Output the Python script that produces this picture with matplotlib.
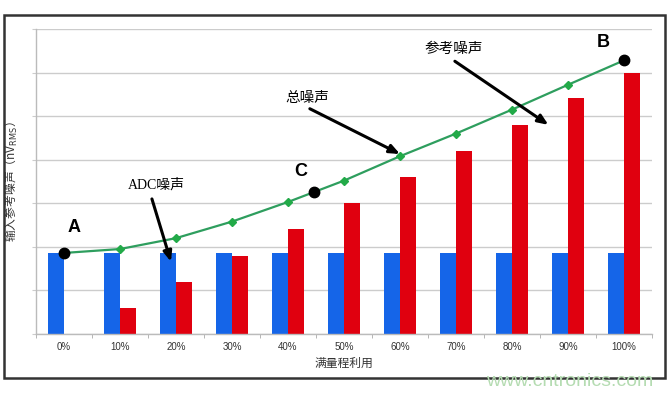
import matplotlib.pyplot as plt
import numpy as np
from matplotlib.patches import Rectangle

plt.rcParams['font.family'] = ['Liberation Sans', 'Noto Sans CJK SC', 'DejaVu Sans']

# values (y in chart units, gridline spacing = 1)
categories = ["0%", "10%", "20%", "30%", "40%", "50%", "60%", "70%", "80%", "90%", "100%"]
adc_noise = [1.86, 1.86, 1.86, 1.86, 1.86, 1.86, 1.86, 1.86, 1.86, 1.86, 1.86]
ref_noise = [0.0, 0.6, 1.2, 1.8, 2.41, 3.0, 3.6, 4.2, 4.8, 5.41, 6.0]
total_noise = [1.86, 1.95, 2.2, 2.58, 3.03, 3.52, 4.08, 4.6, 5.15, 5.72, 6.28]
# marked points A, C, B  (x in category index)
point_x = [0, 4.46, 10]
point_y = [1.86, 3.27, 6.28]
point_names = ["A", "C", "B"]

BLUE = "#1565e8"
RED = "#e0000f"
GREEN = "#2e9e5e"
DIAMOND = "#22aa48"
GRID = "#cccccc"

fig = plt.figure(figsize=(6.71, 3.95), dpi=100)
ax = fig.add_axes([36 / 671, 1 - 334 / 395, (652 - 36) / 671, (334 - 29) / 395])

x = np.arange(len(categories))
w = 0.286
ax.bar(x - w / 2, adc_noise, width=w, color=BLUE, zorder=2)
ax.bar(x + w / 2, ref_noise, width=w, color=RED, zorder=2)
ax.plot(x, total_noise, color=GREEN, lw=1.6, marker="D", ms=4.5,
        mfc=DIAMOND, mec=DIAMOND, zorder=3)
ax.plot(point_x, point_y, "o", color="black", ms=7.5, zorder=4)

ax.set_xlim(-0.5, len(categories) - 0.5)
ax.set_ylim(0, 7)
ax.set_yticks(range(8))
ax.set_yticklabels([])
ax.grid(axis="y", color=GRID, lw=1, zorder=0)
ax.set_xticks(x)
ax.set_xticklabels(categories, fontsize=7, color="#333333")
ax.set_xticks(np.arange(-0.5, len(categories)), minor=True)
ax.tick_params(axis="x", which="major", length=0, pad=6)
ax.tick_params(axis="x", which="minor", length=3, color="#aaaaaa", direction="out")
ax.tick_params(axis="y", length=3, color=GRID, direction="out")
for s in ("top", "right"):
    ax.spines[s].set_visible(False)
for s in ("left", "bottom"):
    ax.spines[s].set_color("#bbbbbb")
    ax.spines[s].set_linewidth(1)

ax.set_xlabel("满量程利用", fontsize=8.5, color="#333333", labelpad=3,
              family=["Noto Sans CJK SC", "DejaVu Sans"])
ax.set_ylabel("输入参考噪声（nV$_\\mathrm{RMS}$）", fontsize=8.5, color="#333333",
              labelpad=5, family=["Noto Sans CJK SC", "DejaVu Sans"])

# A / B / C letters
letter_off = [(0.18, 0.58), (-0.24, 0.45), (-0.37, 0.42)]
for px, py, name, (dx, dy) in zip(point_x, point_y, point_names, letter_off):
    ax.text(px + dx, py + dy, name, fontsize=13, fontweight="bold",
            ha="center", va="center", zorder=5)

arrow = dict(arrowstyle="-|>,head_length=0.6,head_width=0.25", color="black", lw=2.2,
             shrinkA=0, shrinkB=0)
cjk = ["Liberation Serif", "Noto Sans CJK SC", "DejaVu Sans"]
ax.annotate("", xy=(1.91, 1.66), xytext=(1.57, 3.1), arrowprops=arrow, zorder=6)
ax.text(1.65, 3.43, "ADC噪声", fontsize=10, ha="center", va="center", family=cjk)
ax.annotate("", xy=(6.0, 4.13), xytext=(4.39, 5.17), arrowprops=arrow, zorder=6)
ax.text(4.35, 5.4, "总噪声", fontsize=10.5, ha="center", va="center", family=cjk)
ax.annotate("", xy=(8.65, 4.8), xytext=(6.98, 6.26), arrowprops=arrow, zorder=6)
ax.text(6.95, 6.53, "参考噪声", fontsize=10.5, ha="center", va="center", family=cjk)

# outer frame
fig.patches.append(Rectangle((4 / 671, 1 - 378 / 395), (665 - 4) / 671, (378 - 15) / 395,
                             transform=fig.transFigure, fill=False, ec="#333333", lw=1.8))

fig.text(570 / 671, 1 - 381 / 395, "www.cntronics.com", fontsize=14, color="#b5dcb2",
         ha="center", va="center")

fig.savefig("out.png", dpi=100)
